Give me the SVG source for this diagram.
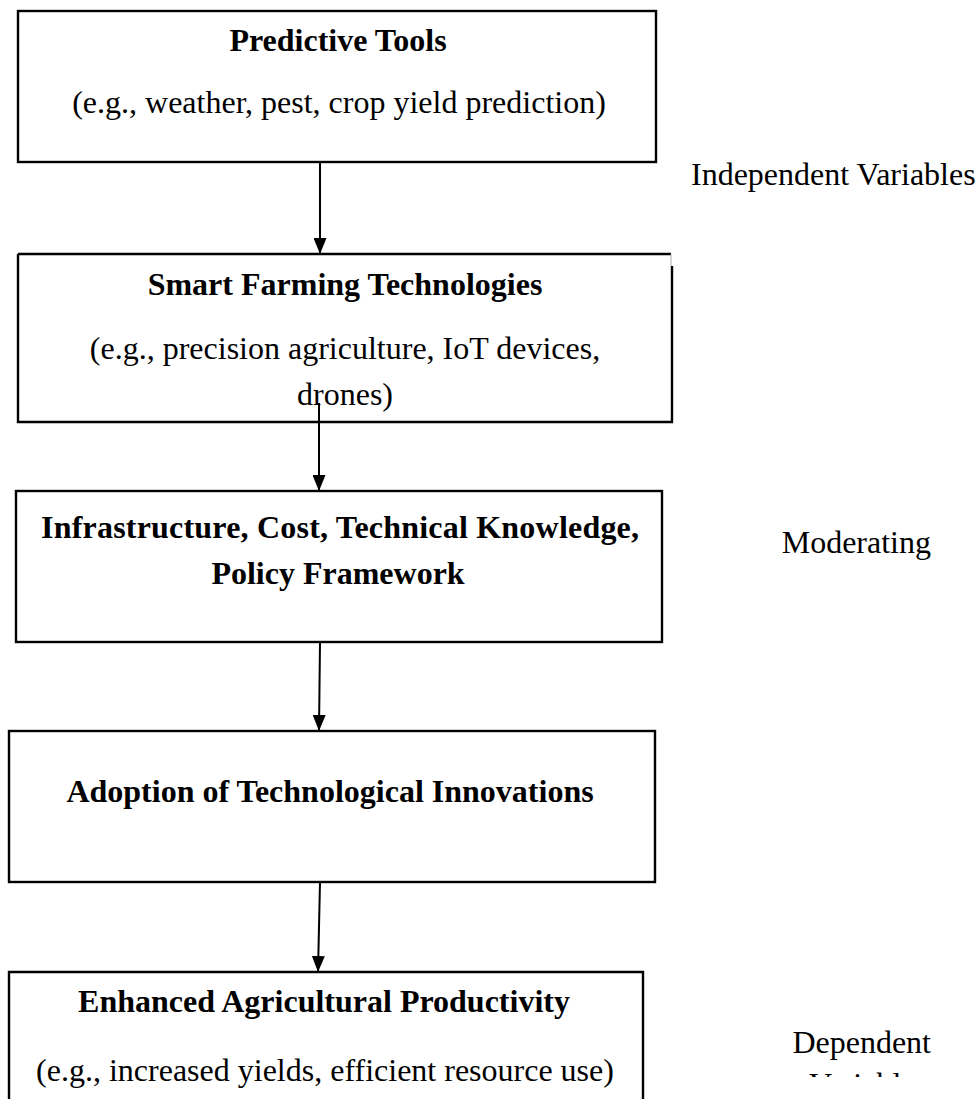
<svg xmlns="http://www.w3.org/2000/svg" width="979" height="1099" viewBox="0 0 979 1099">
<style>
  .box { fill: none; stroke: #000; stroke-width: 2.4; }
  .t { font-family: "Liberation Serif", "Times New Roman", serif; font-size: 32px; fill: #000; }
  .b { font-weight: bold; }
  .c { text-anchor: middle; }
  .conn { stroke: #000; stroke-width: 2; fill: none; }
</style>
<defs>
  <marker id="ah" viewBox="0 0 16 13" refX="16" refY="6.5" markerWidth="16" markerHeight="13" markerUnits="userSpaceOnUse" orient="auto">
    <path d="M0,0 L16,6.5 L0,13 z" fill="#000"/>
  </marker>
  <clipPath id="varclip"><rect x="780" y="1072" width="199" height="5"/></clipPath>
</defs>
<rect width="979" height="1099" fill="#fff"/>

<g id="node-predictive">
  <rect class="box" x="18" y="11" width="638" height="151"/>
  <text class="t b c" x="338" y="51">Predictive Tools</text>
  <text class="t c" x="339" y="113">(e.g., weather, pest, crop yield prediction)</text>
</g>

<g id="node-smart">
  <path class="box" d="M18,254 H671 M672,266 V422 H18 V254"/>
  <path d="M671,254 V266" stroke="#aaa" stroke-width="1"/>
  <text class="t b c" x="345" y="295">Smart Farming Technologies</text>
  <text class="t c" x="345" y="359">(e.g., precision agriculture, IoT devices,</text>
  <text class="t c" x="345" y="405">drones)</text>
</g>

<g id="node-moderating">
  <rect class="box" x="16" y="491" width="646" height="151"/>
  <text class="t b c" x="340" y="538" textLength="598" lengthAdjust="spacing">Infrastructure, Cost, Technical Knowledge,</text>
  <text class="t b c" x="338" y="584">Policy Framework</text>
</g>

<g id="node-adoption">
  <rect class="box" x="9" y="731" width="646" height="151"/>
  <text class="t b c" x="330" y="802">Adoption of Technological Innovations</text>
</g>

<g id="node-productivity">
  <path class="box" d="M9,1100 V972 H643 V1100"/>
  <text class="t b c" x="324" y="1012">Enhanced Agricultural Productivity</text>
  <text class="t c" x="325" y="1081">(e.g., increased yields, efficient resource use)</text>
</g>

<g id="labels">
  <text class="t" x="691" y="185">Independent Variables</text>
  <text class="t" x="931" y="553" text-anchor="end">Moderating</text>
  <text class="t" x="931" y="1053" text-anchor="end">Dependent</text>
  <text class="t" x="928" y="1095" text-anchor="end" clip-path="url(#varclip)" fill="#999">Variables</text>
</g>

<g id="connectors">
  <line class="conn" x1="320" y1="162" x2="320" y2="254" marker-end="url(#ah)"/>
  <line class="conn" x1="319" y1="403" x2="319" y2="491" marker-end="url(#ah)"/>
  <line class="conn" x1="320" y1="642" x2="319" y2="731" marker-end="url(#ah)"/>
  <line class="conn" x1="320" y1="882" x2="318" y2="972" marker-end="url(#ah)"/>
</g>
</svg>
